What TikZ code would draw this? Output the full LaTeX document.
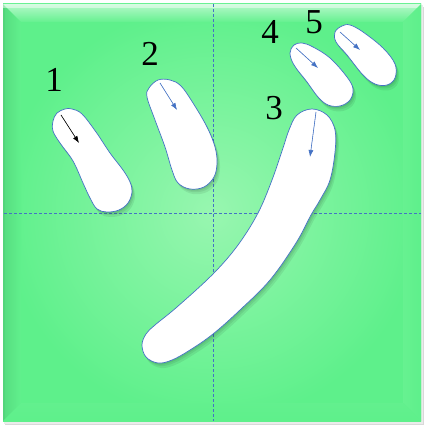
\documentclass[tikz,border=0pt]{standalone}
\usepackage{fontspec}
\setmainfont{Liberation Serif}
\usetikzlibrary{arrows.meta}
\definecolor{edgeblue}{HTML}{4472C4}
\definecolor{greenin}{HTML}{98F6B0}
\definecolor{greenout}{HTML}{5EF08B}
\tikzset{
  kanafill/.style={fill=white, draw=edgeblue, line width=0.7pt},
  kanashadow/.style={fill=black, opacity=0.07},
  guide/.style={draw=edgeblue, line width=0.7pt, dash pattern=on 3pt off 2pt},
  dirarrow/.style={draw=edgeblue, fill=edgeblue, line width=0.6pt, -{Latex[length=7pt,width=5pt]}},
  numlabel/.style={inner sep=0pt, font=\fontsize{35}{40}\selectfont, text=black},
}
\newcommand{\kanastroke}[1]{%
  \fill[kanashadow, shift={(3,5)}] plot[smooth cycle, tension=0.6] coordinates {#1};
  \fill[kanashadow, shift={(2,3)}] plot[smooth cycle, tension=0.6] coordinates {#1};
  \fill[kanashadow, shift={(1,1.5)}] plot[smooth cycle, tension=0.6] coordinates {#1};
  \path[kanafill] plot[smooth cycle, tension=0.6] coordinates {#1};
}
\begin{document}
\begin{tikzpicture}[x=1pt, y=-1pt]
\useasboundingbox (0,0) rectangle (426,427);
\fill[white] (0,0) rectangle (426,427);
% shadow of board
\fill[black!15] (5,7) rectangle (424,425);
\fill[black!8] (4,5) rectangle (423,424);
% board
\shade[inner color=greenin, outer color=greenout] (3,4) rectangle (421,421);
% bevels
\shade[left color=greenout!88!black!70!greenout, right color=greenout!95!greenin] (3,4) -- (21,22) -- (21,403) -- (3,421) -- cycle;
\fill[greenout!80!black, opacity=0.25] (3,4) rectangle (5,421);
\shade[top color=white!55!greenout, bottom color=greenout!88!greenin] (3,4) -- (421,4) -- (403,22) -- (21,22) -- cycle;
\fill[white, opacity=0.45] (3,4) rectangle (421,8);
\shade[left color=greenout!85!greenin, right color=greenout] (421,4) -- (421,421) -- (403,403) -- (403,22) -- cycle;
\shade[top color=greenout!92!greenin, bottom color=greenout] (3,421) -- (421,421) -- (403,403) -- (21,403) -- cycle;
% guides
\coordinate (vt) at (213,4);
\coordinate (vb) at (213,421);
\coordinate (hl) at (4,213);
\coordinate (hr) at (421,213);
\draw[guide] (vt) -- (vb);
\draw[guide] (hl) -- (hr);
% stroke 1
\kanastroke{(65,109) (72,109) (82,114) (96,132) (110,153) (123,170) (130,182) (132,192) (128,203) (119,210) (107,212) (97,209) (90,198) (83,183) (73,161) (60,143) (53,131) (53,121) (57,113)}
% stroke 2
\kanastroke{(158,80) (170,80) (181,86) (193,103) (207,127) (215,147) (217,163) (214,177) (204,187) (190,189) (178,183) (172,170) (165,147) (155,120) (147,97) (149,88)}
% stroke 3
\kanastroke{(312,109) (327,115) (335,130) (335,152) (330,180) (320,200) (311,215) (296,243) (270,280) (240,310) (213,334) (190,350) (172,360) (158,363) (146,357) (142,345) (146,334) (155,325) (177,307) (213,274) (238,245) (258,213) (272,180) (283,148) (289,130) (297,115)}
% stroke 4
\kanastroke{(302,43) (313,47) (330,58) (347,77) (353,89) (350,100) (340,106) (328,105) (318,97) (307,82) (294,65) (290,53) (294,45)}
% stroke 5
\kanastroke{(342,26) (350,25) (363,32) (383,48) (395,64) (395,78) (387,85) (375,84) (363,75) (347,55) (336,42) (335,32)}
% direction arrows
\coordinate (a1s) at (61,115); \coordinate (a1e) at (79,143);
\coordinate (a2s) at (160,83); \coordinate (a2e) at (177,110);
\coordinate (a3s) at (316,112); \coordinate (a3e) at (310,157);
\coordinate (a4s) at (296,48); \coordinate (a4e) at (318,68);
\coordinate (a5s) at (340,32); \coordinate (a5e) at (360,50);
\draw[dirarrow, draw=black, fill=black] (a1s) -- (a1e);
\draw[dirarrow] (a2s) -- (a2e);
\draw[dirarrow] (a3s) -- (a3e);
\draw[dirarrow] (a4s) -- (a4e);
\draw[dirarrow] (a5s) -- (a5e);
% labels
\node[numlabel] (n1) at (54,80) {1};
\node[numlabel] (n2) at (150,54) {2};
\node[numlabel] (n3) at (274,108) {3};
\node[numlabel] (n4) at (270,32) {4};
\node[numlabel] (n5) at (314,22) {5};
\end{tikzpicture}
\end{document}
